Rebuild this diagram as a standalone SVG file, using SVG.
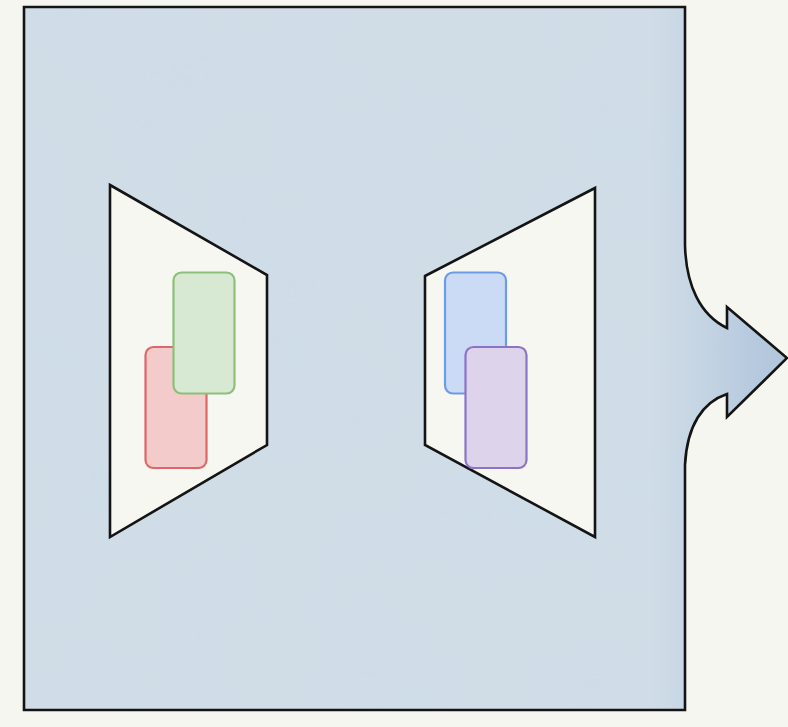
<svg xmlns="http://www.w3.org/2000/svg" width="788" height="727" viewBox="0 0 788 727">
  <defs>
    <style>
      .outline { stroke: #141414; stroke-width: 2.6; stroke-linejoin: miter; }
      .trap { fill: #f7f7f2; stroke: #141414; stroke-width: 2.6; }
      .card { stroke-width: 2.2; }
      .red { fill: #f4cbcb; stroke: #e06767; }
      .green { fill: #d8e9d3; stroke: #8cc07a; }
      .blue { fill: #cbdaf5; stroke: #6c9ce8; }
      .purple { fill: #ddd3ea; stroke: #8b74c6; }
    </style>
    <filter id="wash" x="0" y="0" width="100%" height="100%">
      <feTurbulence type="fractalNoise" baseFrequency="0.009" numOctaves="3" seed="7" result="n"/>
      <feColorMatrix in="n" type="matrix" values="0 0 0 0 0.62  0 0 0 0 0.72  0 0 0 0 0.82  0 0 0 1.4 -0.55" result="c"/>
      <feComposite in="c" in2="SourceGraphic" operator="in"/>
    </filter>
    <linearGradient id="edge" x1="0" y1="0" x2="1" y2="0">
      <stop offset="0.82" stop-color="#a9bfd8" stop-opacity="0"/>
      <stop offset="0.95" stop-color="#9fb8d6" stop-opacity="0.5"/>
      <stop offset="1" stop-color="#9fb8d6" stop-opacity="0.65"/>
    </linearGradient>
    <path id="shape" d="M24,7 L685,7 L685,245 C686,285 700,315 727,328 L727,307 L787,358 L727,417 L727,394 C703,402 687,425 685,465 L685,710 L24,710 Z"/>
  </defs>
  <rect width="788" height="727" fill="#f6f6f1"/>
  <g id="container">
    <use href="#shape" fill="#d0dde7"/>
    <use href="#shape" fill="#ffffff" filter="url(#wash)"/>
    <use href="#shape" fill="url(#edge)"/>
    <use href="#shape" fill="none" class="outline"/>
  </g>
  <g id="left-trapezoid">
    <polygon class="trap" points="110,185 267,275 267,445 110,537"/>
  </g>
  <g id="right-trapezoid">
    <polygon class="trap" points="425,276 595,188 595,537 425,445"/>
  </g>
  <g id="red-card">
    <rect class="card red" x="145.5" y="347" width="61" height="121" rx="8"/>
  </g>
  <g id="green-card">
    <rect class="card green" x="173.5" y="272.5" width="61" height="121" rx="8"/>
  </g>
  <g id="blue-card">
    <rect class="card blue" x="445" y="272.5" width="61" height="121" rx="8"/>
  </g>
  <g id="purple-card">
    <rect class="card purple" x="465.5" y="347" width="61" height="121" rx="8"/>
  </g>
  <g id="connectors"/>
</svg>
